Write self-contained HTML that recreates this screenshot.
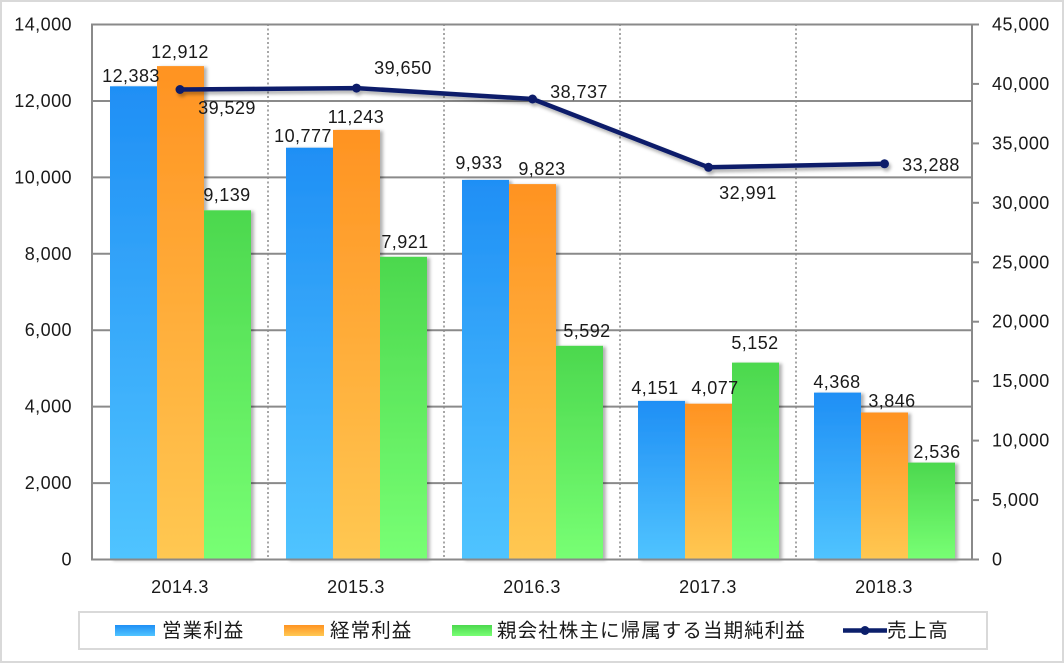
<!DOCTYPE html>
<html><head><meta charset="utf-8"><style>
html,body{margin:0;padding:0;background:#fff;}
svg{display:block;}
text{font-family:"Liberation Sans","Noto Sans CJK JP",sans-serif;fill:#1a1a1a;}
.n{font-size:18px;letter-spacing:0.45px;}
.lg{font-size:19.5px;letter-spacing:1.1px;}
</style></head><body>
<svg width="1064" height="663" viewBox="0 0 1064 663" xmlns="http://www.w3.org/2000/svg">
<defs>
<linearGradient id="gb" x1="0" y1="0" x2="0" y2="1"><stop offset="0" stop-color="#1f8ff5"/><stop offset="1" stop-color="#50c4ff"/></linearGradient>
<linearGradient id="go" x1="0" y1="0" x2="0" y2="1"><stop offset="0" stop-color="#ff9322"/><stop offset="1" stop-color="#ffc852"/></linearGradient>
<linearGradient id="gg" x1="0" y1="0" x2="0" y2="1"><stop offset="0" stop-color="#4cd84e"/><stop offset="1" stop-color="#78ff74"/></linearGradient>
<filter id="sh" x="-20%" y="-5%" width="140%" height="110%"><feDropShadow dx="3" dy="1" stdDeviation="1.5" flood-color="#000" flood-opacity="0.3"/></filter>
<filter id="lsh" x="-5%" y="-20%" width="110%" height="140%"><feDropShadow dx="2" dy="3" stdDeviation="1.5" flood-color="#000" flood-opacity="0.3"/></filter>
</defs>
<rect x="1" y="1" width="1062" height="661" fill="#fff" stroke="#d9d9d9" stroke-width="2"/>
<g stroke="#8a8a8a" stroke-width="2">
<line x1="92" y1="24.5" x2="972" y2="24.5"/>
<line x1="92" y1="101" x2="972" y2="101"/>
<line x1="92" y1="177.4" x2="972" y2="177.4"/>
<line x1="92" y1="253.8" x2="972" y2="253.8"/>
<line x1="92" y1="330.2" x2="972" y2="330.2"/>
<line x1="92" y1="406.6" x2="972" y2="406.6"/>
<line x1="92" y1="483.1" x2="972" y2="483.1"/>
</g>
<g stroke="#8a8a8a" stroke-width="1.5" stroke-dasharray="2 2.5">
<line x1="268" y1="24" x2="268" y2="559"/>
<line x1="444" y1="24" x2="444" y2="559"/>
<line x1="620" y1="24" x2="620" y2="559"/>
<line x1="796" y1="24" x2="796" y2="559"/>
</g>
<g filter="url(#sh)">
<rect x="110" y="86.3" width="47" height="473.2" fill="url(#gb)"/>
<rect x="157" y="66.1" width="47" height="493.4" fill="url(#go)"/>
<rect x="204" y="210.3" width="47" height="349.2" fill="url(#gg)"/>
<rect x="286" y="147.7" width="47" height="411.8" fill="url(#gb)"/>
<rect x="333" y="129.9" width="47" height="429.6" fill="url(#go)"/>
<rect x="380" y="256.8" width="47" height="302.7" fill="url(#gg)"/>
<rect x="462" y="179.9" width="47" height="379.6" fill="url(#gb)"/>
<rect x="509" y="184.1" width="47" height="375.4" fill="url(#go)"/>
<rect x="556" y="345.8" width="47" height="213.7" fill="url(#gg)"/>
<rect x="638" y="400.9" width="47" height="158.6" fill="url(#gb)"/>
<rect x="685" y="403.7" width="47" height="155.8" fill="url(#go)"/>
<rect x="732" y="362.6" width="47" height="196.9" fill="url(#gg)"/>
<rect x="814" y="392.6" width="47" height="166.9" fill="url(#gb)"/>
<rect x="861" y="412.5" width="47" height="147" fill="url(#go)"/>
<rect x="908" y="462.6" width="47" height="96.9" fill="url(#gg)"/>
</g>
<g stroke="#8a8a8a" stroke-width="2">
<line x1="92" y1="23.5" x2="92" y2="560.5"/>
<line x1="91" y1="559.5" x2="973" y2="559.5"/>
<line x1="972" y1="23.5" x2="972" y2="560.5"/>
<line x1="972" y1="24.5" x2="979" y2="24.5"/>
<line x1="972" y1="83.9" x2="979" y2="83.9"/>
<line x1="972" y1="143.4" x2="979" y2="143.4"/>
<line x1="972" y1="202.8" x2="979" y2="202.8"/>
<line x1="972" y1="262.3" x2="979" y2="262.3"/>
<line x1="972" y1="321.7" x2="979" y2="321.7"/>
<line x1="972" y1="381.2" x2="979" y2="381.2"/>
<line x1="972" y1="440.6" x2="979" y2="440.6"/>
<line x1="972" y1="500.1" x2="979" y2="500.1"/>
<line x1="972" y1="559.5" x2="979" y2="559.5"/>
</g>
<g filter="url(#lsh)">
<polyline points="180,89.5 356.5,88.1 532.5,99 708.5,167.3 884.5,163.8" fill="none" stroke="#0b1f6b" stroke-width="4.5" stroke-linejoin="round"/>
<g fill="#0b1f6b">
<circle cx="180" cy="89.5" r="4.5"/>
<circle cx="356.5" cy="88.1" r="4.5"/>
<circle cx="532.5" cy="99" r="4.5"/>
<circle cx="708.5" cy="167.3" r="4.5"/>
<circle cx="884.5" cy="163.8" r="4.5"/>
</g>
</g>
<g class="n" text-anchor="end" dominant-baseline="central">
<text x="72" y="24.5">14,000</text>
<text x="72" y="101">12,000</text>
<text x="72" y="177.4">10,000</text>
<text x="72" y="253.8">8,000</text>
<text x="72" y="330.2">6,000</text>
<text x="72" y="406.6">4,000</text>
<text x="72" y="483.1">2,000</text>
<text x="72" y="559.5">0</text>
</g>
<g class="n" text-anchor="start" dominant-baseline="central">
<text x="992" y="24.5">45,000</text>
<text x="992" y="83.9">40,000</text>
<text x="992" y="143.4">35,000</text>
<text x="992" y="202.8">30,000</text>
<text x="992" y="262.3">25,000</text>
<text x="992" y="321.7">20,000</text>
<text x="992" y="381.2">15,000</text>
<text x="992" y="440.6">10,000</text>
<text x="992" y="500.1">5,000</text>
<text x="992" y="559.5">0</text>
</g>
<g class="n" text-anchor="middle" dominant-baseline="central">
<text x="180" y="587">2014.3</text>
<text x="356" y="587">2015.3</text>
<text x="532" y="587">2016.3</text>
<text x="708" y="587">2017.3</text>
<text x="884" y="587">2018.3</text>
</g>
<g class="n" text-anchor="middle" dominant-baseline="central">
<text x="131" y="76">12,383</text>
<text x="180" y="52">12,912</text>
<text x="227" y="195">9,139</text>
<text x="303" y="136">10,777</text>
<text x="356" y="117">11,243</text>
<text x="405" y="242">7,921</text>
<text x="479" y="163">9,933</text>
<text x="542" y="169">9,823</text>
<text x="587" y="331">5,592</text>
<text x="655" y="388">4,151</text>
<text x="715" y="388">4,077</text>
<text x="755" y="343">5,152</text>
<text x="837" y="382">4,368</text>
<text x="892" y="401">3,846</text>
<text x="937" y="452">2,536</text>
<text x="227" y="108">39,529</text>
<text x="403" y="68">39,650</text>
<text x="579" y="92">38,737</text>
<text x="748" y="193">32,991</text>
<text x="931" y="165">33,288</text>
</g>
<rect x="79" y="612" width="908" height="37" fill="#fff" stroke="#d9d9d9" stroke-width="2"/>
<rect x="115" y="625" width="40" height="11" fill="url(#gb)"/>
<rect x="284" y="625" width="40" height="11" fill="url(#go)"/>
<rect x="452" y="625" width="40" height="11" fill="url(#gg)"/>
<line x1="843" y1="630.5" x2="887" y2="630.5" stroke="#0b1f6b" stroke-width="4.5"/>
<circle cx="865" cy="630.5" r="4.5" fill="#0b1f6b"/>
<g class="lg" dominant-baseline="central">
<text x="162" y="631">営業利益</text>
<text x="330" y="631">経常利益</text>
<text x="497" y="631">親会社株主に帰属する当期純利益</text>
<text x="887" y="631">売上高</text>
</g>
</svg>
</body></html>
